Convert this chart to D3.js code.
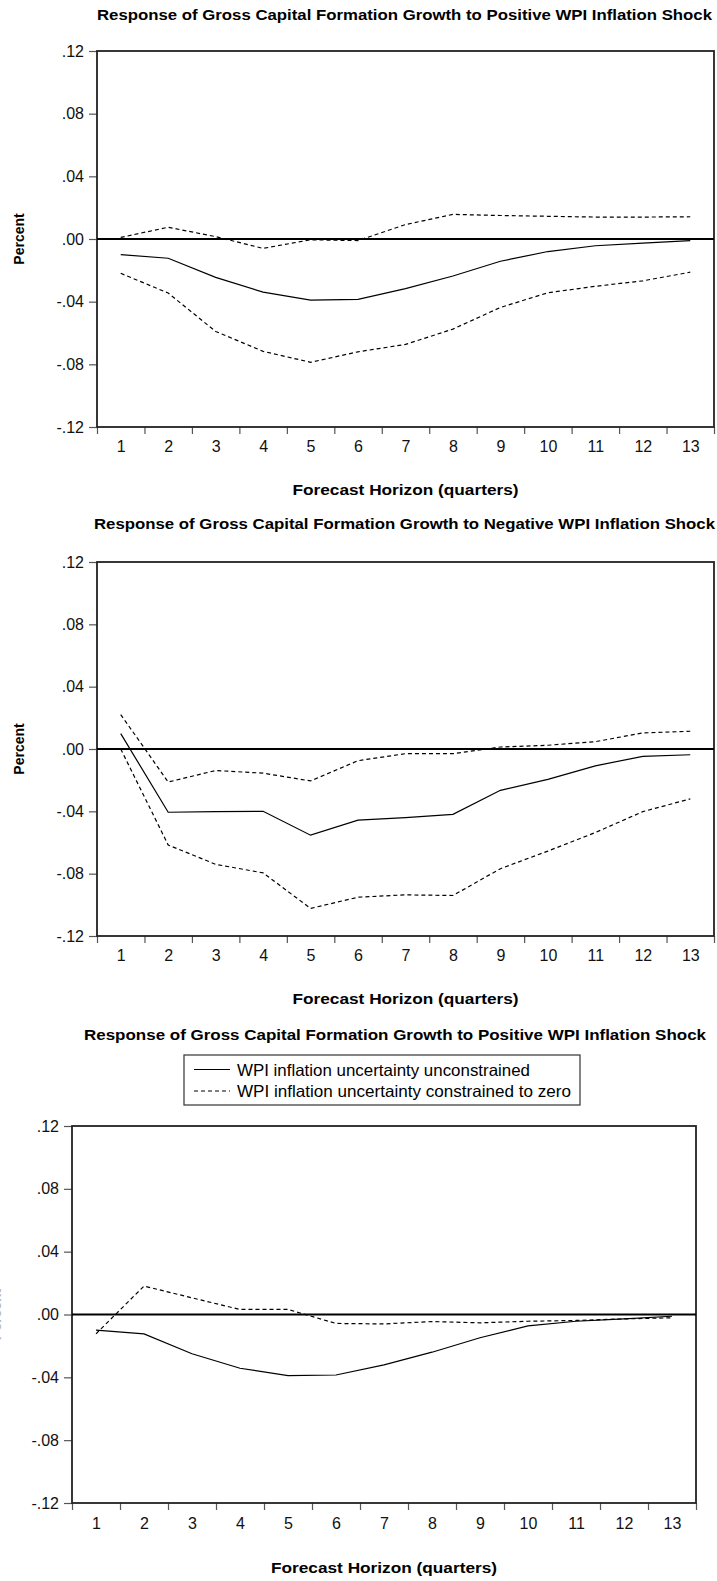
<!DOCTYPE html>
<html>
<head>
<meta charset="utf-8">
<script src="https://cdn.jsdelivr.net/npm/d3@7"></script>
<style>
  body { margin: 0; background: #fff; }
  svg { display: block; font-family: "Liberation Sans", Arial, sans-serif; }
</style>
</head>
<body>
<svg width="717" height="1581"></svg>
<script>
// forecast horizon (quarters)
var horizons = [1, 2, 3, 4, 5, 6, 7, 8, 9, 10, 11, 12, 13];
var yTicks = [-0.12, -0.08, -0.04, 0, 0.04, 0.08, 0.12];

var titles = [
  "Response of Gross Capital Formation Growth to Positive WPI Inflation Shock",
  "Response of Gross Capital Formation Growth to Negative WPI Inflation Shock",
  "Response of Gross Capital Formation Growth to Positive WPI Inflation Shock"
];
var xTitle = "Forecast Horizon (quarters)";
var yTitle = "Percent";
var legendLabels = ["WPI inflation uncertainty unconstrained", "WPI inflation uncertainty constrained to zero"];

// panel 1: positive shock, response with +/- 2 s.e. bands
var p1Solid = [-0.0100, -0.0123, -0.0245, -0.0339, -0.0390, -0.0385, -0.0317, -0.0236, -0.0142, -0.0080, -0.0043, -0.0026, -0.0011];
var p1Upper = [0.0010, 0.0075, 0.0015, -0.0060, -0.0005, -0.0010, 0.0092, 0.0157, 0.0150, 0.0145, 0.0140, 0.0140, 0.0142];
var p1Lower = [-0.0219, -0.0345, -0.0590, -0.0717, -0.0787, -0.0720, -0.0673, -0.0575, -0.0437, -0.0343, -0.0302, -0.0267, -0.0212];

// panel 2: negative shock
var p2Solid = [0.0099, -0.0406, -0.0402, -0.0400, -0.0553, -0.0456, -0.0440, -0.0419, -0.0265, -0.0195, -0.0108, -0.0047, -0.0037];
var p2Upper = [0.0221, -0.0212, -0.0138, -0.0155, -0.0205, -0.0075, -0.0030, -0.0030, 0.0013, 0.0024, 0.0047, 0.0103, 0.0114];
var p2Lower = [0.0000, -0.0616, -0.0740, -0.0795, -0.1023, -0.0951, -0.0936, -0.0940, -0.0768, -0.0655, -0.0536, -0.0402, -0.0320];

// panel 3: unconstrained vs constrained uncertainty
var p3Unconstrained = [-0.0100, -0.0123, -0.0250, -0.0342, -0.0389, -0.0385, -0.0321, -0.0240, -0.0148, -0.0072, -0.0043, -0.0028, -0.0011];
var p3Constrained = [-0.0123, 0.0181, 0.0106, 0.0032, 0.0032, -0.0057, -0.0060, -0.0045, -0.0053, -0.0043, -0.0038, -0.0028, -0.0021];

var svg = d3.select("svg");

function fmtY(d) {
  var s = d3.format(".2f")(Math.abs(d)).replace(/^0/, "");
  return d < 0 ? "-" + s : s;
}

function drawPanel(cfg) {
  var x = d3.scaleLinear().domain([0.5, 13.5]).range([cfg.left, cfg.right]);
  var y = d3.scaleLinear().domain([-0.12, 0.12]).range([cfg.bottom, cfg.top]);
  var g = svg.append("g");

  // title
  g.append("text")
    .attr("x", (cfg.titleL + cfg.titleR) / 2)
    .attr("y", cfg.titleY)
    .attr("text-anchor", "middle")
    .attr("dominant-baseline", "central")
    .attr("font-weight", "bold")
    .attr("font-size", 15)
    .attr("textLength", cfg.titleR - cfg.titleL)
    .attr("lengthAdjust", "spacingAndGlyphs")
    .text(cfg.title);

  // y axis
  var ya = g.append("g")
    .attr("transform", "translate(" + cfg.left + ",0)")
    .call(d3.axisLeft(y).tickValues(yTicks).tickSize(8).tickPadding(5).tickFormat(fmtY));
  ya.select(".domain").remove();
  ya.selectAll("text").attr("font-size", 16).attr("font-family", "Liberation Sans, Arial, sans-serif").attr("fill", "#111");
  ya.selectAll("line").attr("stroke", "#555").attr("stroke-width", 1.2);

  // x ticks between quarters
  var xa = g.append("g")
    .attr("transform", "translate(0," + cfg.bottom + ")")
    .call(d3.axisBottom(x).tickValues(d3.range(0.5, 14, 1)).tickSize(7).tickFormat(""));
  xa.select(".domain").remove();
  xa.selectAll("line").attr("stroke", "#555").attr("stroke-width", 1.2);

  var xl = g.append("g")
    .attr("transform", "translate(0," + (cfg.bottom + cfg.tickLabelGap) + ")")
    .call(d3.axisBottom(x).tickValues(horizons).tickSize(0).tickPadding(0));
  xl.select(".domain").remove();
  xl.selectAll("text")
    .attr("dy", null).attr("y", 0)
    .attr("dominant-baseline", "central")
    .attr("font-size", 16).attr("font-family", "Liberation Sans, Arial, sans-serif").attr("fill", "#111");

  // axis titles
  g.append("text")
    .attr("x", (cfg.left + cfg.right) / 2)
    .attr("y", cfg.bottom + cfg.xTitleGap)
    .attr("text-anchor", "middle")
    .attr("dominant-baseline", "central")
    .attr("font-weight", "bold")
    .attr("font-size", 15)
    .attr("textLength", 226)
    .attr("lengthAdjust", "spacingAndGlyphs")
    .text(xTitle);

  g.append("text")
    .attr("transform", "translate(" + cfg.yTitleX + "," + y(0) + ") rotate(-90)")
    .attr("text-anchor", "middle")
    .attr("dominant-baseline", "central")
    .attr("font-weight", "bold")
    .attr("font-size", 14)
    .attr("fill", cfg.yTitleColor)
    .text(yTitle);

  // frame
  g.append("rect")
    .attr("x", cfg.left).attr("y", cfg.top)
    .attr("width", cfg.right - cfg.left).attr("height", cfg.bottom - cfg.top)
    .attr("fill", "none").attr("stroke", "#222").attr("stroke-width", 1.8);

  // zero line
  g.append("line")
    .attr("x1", cfg.left).attr("x2", cfg.right)
    .attr("y1", y(0)).attr("y2", y(0))
    .attr("stroke", "#000").attr("stroke-width", 2.2);

  var line = d3.line()
    .x(function(d, i) { return x(horizons[i]); })
    .y(function(d) { return y(d); });

  cfg.series.forEach(function(s) {
    g.append("path")
      .datum(s.values)
      .attr("d", line)
      .attr("fill", "none")
      .attr("stroke", "#000")
      .attr("stroke-width", 1.2)
      .attr("stroke-dasharray", s.dashed ? "4,3" : null);
  });

  return { x: x, y: y };
}

drawPanel({
  title: titles[0], titleY: 14, titleL: 97, titleR: 712,
  left: 97, right: 714, top: 51, bottom: 427, tickLabelGap: 19, xTitleGap: 62,
  yTitleX: 19, yTitleColor: "#000",
  series: [
    { values: p1Upper, dashed: true },
    { values: p1Lower, dashed: true },
    { values: p1Solid, dashed: false }
  ]
});

drawPanel({
  title: titles[1], titleY: 523, titleL: 94, titleR: 715,
  left: 97, right: 714, top: 562, bottom: 936, tickLabelGap: 19, xTitleGap: 62,
  yTitleX: 19, yTitleColor: "#000",
  series: [
    { values: p2Upper, dashed: true },
    { values: p2Lower, dashed: true },
    { values: p2Solid, dashed: false }
  ]
});

drawPanel({
  title: titles[2], titleY: 1034, titleL: 84, titleR: 706,
  left: 72, right: 696, top: 1126, bottom: 1503, tickLabelGap: 20, xTitleGap: 64,
  yTitleX: -4, yTitleColor: "#bbb",
  series: [
    { values: p3Constrained, dashed: true },
    { values: p3Unconstrained, dashed: false }
  ]
});

// legend for panel 3
var leg = svg.append("g");
leg.append("rect")
  .attr("x", 184).attr("y", 1055).attr("width", 396).attr("height", 50)
  .attr("fill", "#fff").attr("stroke", "#333").attr("stroke-width", 1.2);
legendLabels.forEach(function(lbl, i) {
  var yy = 1069.5 + i * 21.5;
  leg.append("line")
    .attr("x1", 194).attr("x2", 230).attr("y1", yy).attr("y2", yy)
    .attr("stroke", "#000").attr("stroke-width", 1.2)
    .attr("stroke-dasharray", i === 1 ? "4,3" : null);
  leg.append("text")
    .attr("x", 237).attr("y", yy)
    .attr("dominant-baseline", "central")
    .attr("font-size", 16.5)
    .attr("textLength", i === 0 ? 293 : 334)
    .attr("lengthAdjust", "spacingAndGlyphs")
    .text(lbl);
});
</script>
</body>
</html>
